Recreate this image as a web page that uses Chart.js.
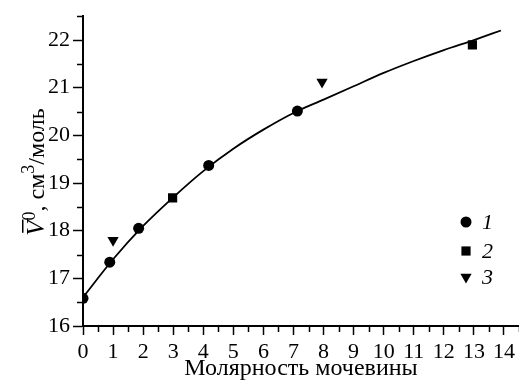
<!DOCTYPE html>
<html>
<head>
<meta charset="utf-8">
<script src="https://cdn.jsdelivr.net/npm/chart.js@4/dist/chart.umd.min.js"></script>
<style>
    html, body { margin: 0; padding: 0; background: #fff; }
    #wrap { width: 519px; height: 383px; position: relative; }
</style>
</head>
<body>
<div id="wrap"><canvas id="grafico"></canvas></div>
<script>
// серия 1 (кружки)
const mol1 = [0, 0.89, 1.85, 4.18, 7.13];
const vol1 = [16.58, 17.34, 18.05, 19.37, 20.51];
// серия 2 (квадраты)
const mol2 = [2.98, 12.95];
const vol2 = [18.69, 21.9];
// серия 3 (треугольники)
const mol3 = [1.0, 7.95];
const vol3 = [17.8, 21.12];
// сглаживающая кривая
const curvaX = [0, 1, 2, 3, 4, 5, 6, 7, 8, 9, 10, 11, 12, 13, 13.9];
const curvaY = [16.6, 17.4, 18.1, 18.7, 19.25, 19.72, 20.12, 20.47, 20.75, 21.03, 21.31, 21.56, 21.79, 22.0, 22.2];
// деления осей
const ticksX = [0, 1, 2, 3, 4, 5, 6, 7, 8, 9, 10, 11, 12, 13, 14];
const ticksY = [16, 17, 18, 19, 20, 21, 22];
// подписи
const etiquetas = ['1', '2', '3'];
const tituloX = 'Молярность мочевины';

const FUENTE = '"Liberation Serif", "DejaVu Serif", serif';

function pares(xs, ys) {
    return xs.map((x, i) => ({ x: x, y: ys[i] }));
}

// малые риски на осях (между подписанными)
const pluginRiscas = {
    id: 'riscas',
    afterDraw(chart) {
        const ctx = chart.ctx;
        const sx = chart.scales.x, sy = chart.scales.y;
        const area = chart.chartArea;
        ctx.save();
        ctx.strokeStyle = '#000';
        ctx.lineWidth = 1.5;
        ticksX.forEach(t => {
            const px = Math.round(sx.getPixelForValue(t + 0.5)) + 0.5;
            ctx.beginPath();
            ctx.moveTo(px, area.bottom);
            ctx.lineTo(px, area.bottom + 6);
            ctx.stroke();
        });
        ticksY.forEach(t => {
            const py = Math.round(sy.getPixelForValue(t + 0.5)) + 0.5;
            ctx.beginPath();
            ctx.moveTo(area.left, py);
            ctx.lineTo(area.left - 6, py);
            ctx.stroke();
        });
        ctx.restore();
    }
};

// подпись оси Y: V с чертой, степень 0, см3/моль
const pluginTituloY = {
    id: 'tituloY',
    afterDraw(chart) {
        const ctx = chart.ctx;
        ctx.save();
        ctx.translate(36, 172);
        ctx.rotate(-Math.PI / 2);
        ctx.fillStyle = '#000';
        ctx.textBaseline = 'alphabetic';
        const fBig = 'italic 25px ' + FUENTE;
        const fNorm = '24px ' + FUENTE;
        const fSup = '18px ' + FUENTE;
        const piezas = [
            { t: 'V', f: fBig, dy: 0, over: true },
            { t: '0', f: fSup, dy: -9 },
            { t: ', см', f: fNorm, dy: 0 },
            { t: '3', f: fSup, dy: -10 },
            { t: '/моль', f: fNorm, dy: 0 }
        ];
        let total = 0;
        piezas.forEach(p => { ctx.font = p.f; p.w = ctx.measureText(p.t).width; total += p.w; });
        let x = -total / 2;
        const base = 8;
        piezas.forEach(p => {
            ctx.font = p.f;
            ctx.fillText(p.t, x, base + p.dy);
            if (p.over) {
                ctx.fillRect(x + 3, base - 22, p.w - 2, 1.5);
            }
            x += p.w;
        });
        ctx.restore();
    }
};

// легенда внутри поля графика
const pluginLeyenda = {
    id: 'leyendaPropia',
    afterDraw(chart) {
        const ctx = chart.ctx;
        const filas = [222, 251, 277];
        ctx.save();
        chart.data.datasets.forEach((ds, i) => {
            if (i >= filas.length) return;
            Chart.helpers.drawPoint(ctx, {
                pointStyle: ds.pointStyle,
                rotation: ds.pointRotation || 0,
                radius: ds.pointRadius,
                borderWidth: 0
            }, 466, filas[i]);
            ctx.fillStyle = '#000';
            ctx.font = 'italic 22px ' + FUENTE;
            ctx.textBaseline = 'middle';
            ctx.fillText(ds.label, 482, filas[i] + 1);
        });
        ctx.restore();
    }
};

const conjuntos = [
    {
        label: etiquetas[0],
        data: pares(mol1, vol1),
        pointStyle: 'circle',
        pointRadius: 5.5,
        backgroundColor: '#000',
        borderColor: '#000',
        borderWidth: 0,
        showLine: false
    },
    {
        label: etiquetas[1],
        data: pares(mol2, vol2),
        pointStyle: 'rect',
        pointRadius: 6.5,
        backgroundColor: '#000',
        borderColor: '#000',
        borderWidth: 0,
        showLine: false
    },
    {
        label: etiquetas[2],
        data: pares(mol3, vol3),
        pointStyle: 'triangle',
        pointRotation: 180,
        pointRadius: 6.5,
        backgroundColor: '#000',
        borderColor: '#000',
        borderWidth: 0,
        showLine: false
    },
    {
        label: 'curva',
        data: pares(curvaX, curvaY),
        showLine: true,
        pointRadius: 0,
        borderColor: '#000',
        borderWidth: 1.8,
        cubicInterpolationMode: 'monotone',
        fill: false
    }
];

new Chart(document.getElementById('grafico'), {
    type: 'scatter',
    data: { datasets: conjuntos },
    options: {
        responsive: true,
        maintainAspectRatio: false,
        animation: false,
        events: [],
        layout: { autoPadding: false, padding: { top: 13, right: 0, left: 0, bottom: 0 } },
        plugins: {
            legend: { display: false },
            tooltip: { enabled: false }
        },
        scales: {
            x: {
                type: 'linear',
                min: 0,
                max: 14.5,
                afterBuildTicks(scale) { scale.ticks = ticksX.map(v => ({ value: v })); },
                afterFit(scale) {
                    scale.height = 57;
                    scale.paddingLeft = 0;
                    scale.paddingRight = 0;
                },
                border: { color: '#000', width: 2 },
                grid: { drawOnChartArea: false, tickLength: 9, tickColor: '#000', tickWidth: 1.5 },
                ticks: {
                    autoSkip: false,
                    maxRotation: 0,
                    padding: 4,
                    color: '#000',
                    font: { family: FUENTE, size: 22 },
                    callback: v => String(v)
                },
                title: {
                    display: true,
                    text: tituloX,
                    color: '#000',
                    font: { family: FUENTE, size: 24 },
                    padding: { top: 0, bottom: 0 }
                }
            },
            y: {
                type: 'linear',
                min: 16,
                max: 22.5,
                afterBuildTicks(scale) { scale.ticks = ticksY.map(v => ({ value: v })); },
                afterFit(scale) { scale.width = 83; },
                border: { color: '#000', width: 2 },
                grid: { drawOnChartArea: false, tickLength: 10, tickColor: '#000', tickWidth: 1.5 },
                ticks: {
                    autoSkip: false,
                    padding: 3,
                    color: '#000',
                    font: { family: FUENTE, size: 22 },
                    callback: v => String(v)
                }
            }
        }
    },
    plugins: [pluginRiscas, pluginTituloY, pluginLeyenda]
});
</script>
</body>
</html>
